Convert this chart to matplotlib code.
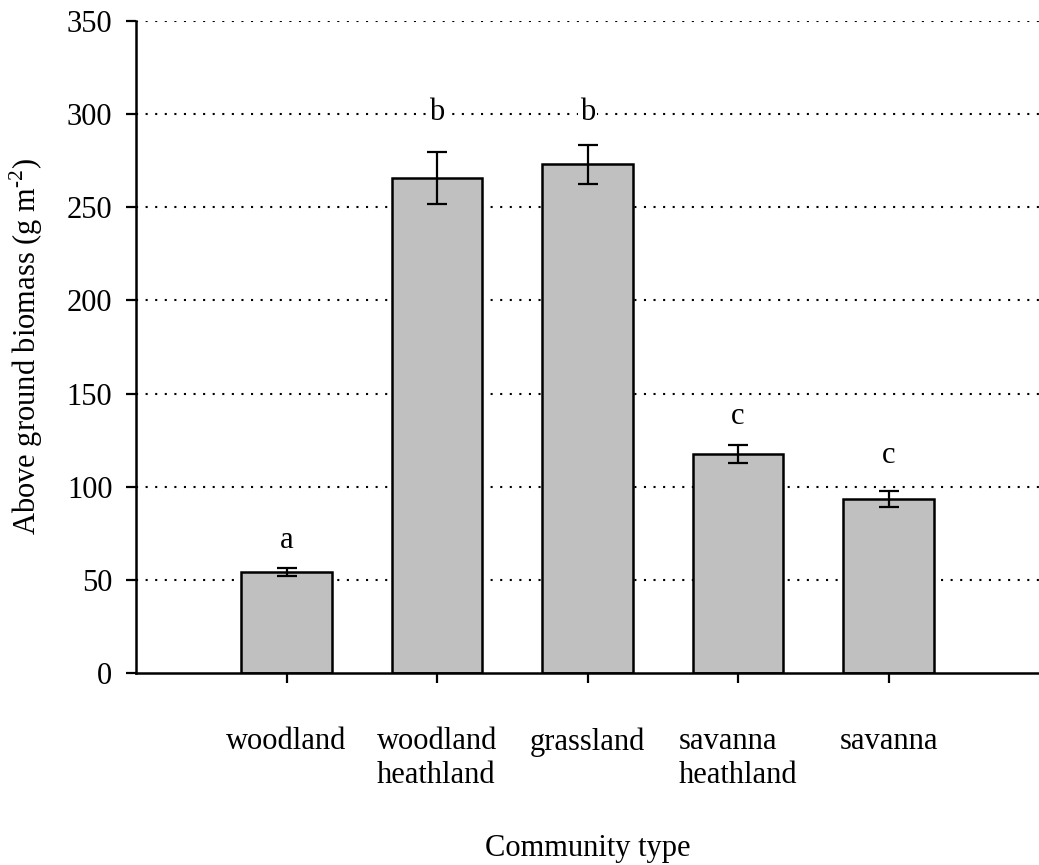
import numpy as np
import matplotlib
matplotlib.use("Agg")
import matplotlib.pyplot as plt

# data
categories = ["woodland", "woodland\nheathland", "grassland", "savanna\nheathland", "savanna"]
biomass = [54, 265.5, 273, 117.5, 93.5]
errors = [2.2, 14, 10.3, 5, 4.3]
letters = ["a", "b", "b", "c", "c"]
letter_y = [71, 301, 301, 137.5, 117]

plt.rcParams["font.family"] = ["Liberation Serif", "DejaVu Serif"]
plt.rcParams["mathtext.fontset"] = "custom"
plt.rcParams["mathtext.rm"] = "Liberation Serif"

fig = plt.figure(figsize=(10.39, 8.65), dpi=100)
ax = fig.add_axes([0.1309, 0.2220, 0.8691, 0.7537])

x = np.arange(1, len(categories) + 1)

# dotted horizontal grid behind the bars
for yv in [50, 100, 150, 200, 250, 300, 350]:
    ax.axhline(yv, color="black", lw=1.5, linestyle=(0, (1, 3.6)), zorder=0)

ax.bar(x, biomass, width=0.6, color="#c0c0c0", edgecolor="black", linewidth=1.8, zorder=2)
ax.errorbar(x, biomass, yerr=errors, fmt="none", ecolor="black", elinewidth=1.6,
            capsize=7, capthick=1.6, zorder=3)

for xi, lab, yv in zip(x, letters, letter_y):
    ax.text(xi, yv, lab, ha="center", va="center", fontsize=22, zorder=4,
            bbox=dict(facecolor="white", edgecolor="none", pad=1))

ax.set_xlim(0, 6)
ax.set_ylim(0, 350)
ax.set_yticks(range(0, 351, 50))
ax.set_xticks(x)
ax.set_xticklabels(categories, multialignment="left")

for s in ["top", "right"]:
    ax.spines[s].set_visible(False)
ax.spines["left"].set_linewidth(1.8)
ax.spines["bottom"].set_linewidth(1.8)

ax.tick_params(axis="y", direction="out", length=7, width=1.6, labelsize=22, pad=10)
ax.tick_params(axis="x", direction="out", length=7, width=1.6, labelsize=22, pad=32)

ax.set_ylabel("Above ground biomass (g m$^{\\mathregular{\u2010 2}}$)".replace("\u2010 ", "\u2010"),
              fontsize=22, labelpad=16)
ax.set_xlabel("Community type", fontsize=22, labelpad=32)

fig.savefig("out.png", dpi=100)
